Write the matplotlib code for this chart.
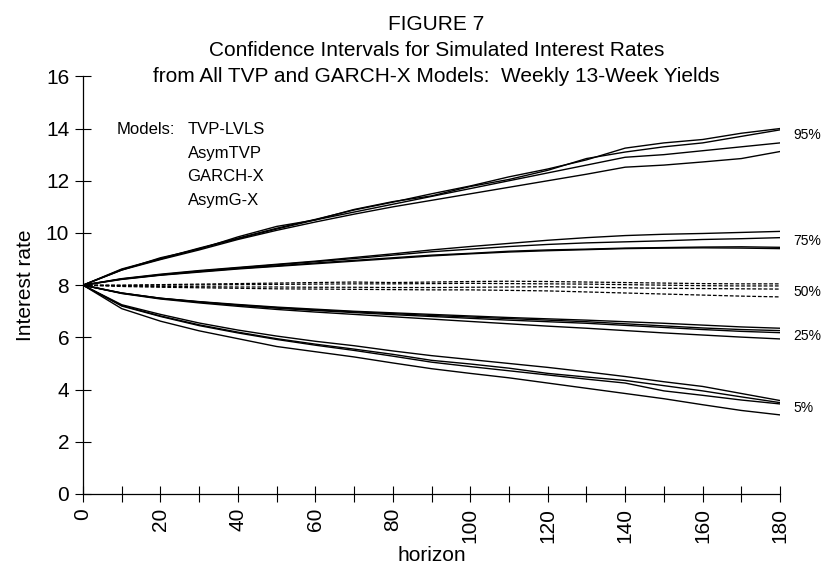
import matplotlib
matplotlib.use("Agg")
import matplotlib.pyplot as plt
import numpy as np

plt.rcParams['font.family'] = ['Liberation Sans Narrow', 'Liberation Sans', 'DejaVu Sans']

# ---------------- data ----------------
horizon = [0, 10, 20, 30, 40, 50, 60, 70, 80, 90, 100, 110, 120, 130, 140, 150, 160, 170, 180]
models = ["TVP-LVLS", "AsymTVP", "GARCH-X", "AsymG-X"]

q95 = [
    [8, 8.62, 9.02, 9.42, 9.80, 10.18, 10.52, 10.88, 11.18, 11.50, 11.80, 12.15, 12.45, 12.80, 13.25, 13.45, 13.58, 13.82, 14.00],
    [8, 8.58, 9.05, 9.38, 9.85, 10.25, 10.50, 10.90, 11.20, 11.42, 11.78, 12.05, 12.40, 12.85, 13.10, 13.30, 13.45, 13.70, 13.95],
    [8, 8.60, 9.00, 9.40, 9.78, 10.15, 10.50, 10.80, 11.10, 11.40, 11.70, 12.00, 12.30, 12.60, 12.90, 13.00, 13.15, 13.30, 13.45],
    [8, 8.58, 8.98, 9.35, 9.75, 10.10, 10.42, 10.72, 11.00, 11.25, 11.50, 11.75, 12.00, 12.25, 12.52, 12.60, 12.72, 12.85, 13.12],
]
q75 = [
    [8, 8.25, 8.42, 8.56, 8.68, 8.80, 8.92, 9.06, 9.20, 9.35, 9.48, 9.60, 9.72, 9.82, 9.90, 9.95, 9.98, 10.02, 10.06],
    [8, 8.24, 8.40, 8.54, 8.66, 8.78, 8.90, 9.02, 9.15, 9.28, 9.38, 9.48, 9.56, 9.62, 9.66, 9.70, 9.75, 9.78, 9.82],
    [8, 8.22, 8.38, 8.50, 8.62, 8.72, 8.82, 8.92, 9.02, 9.12, 9.20, 9.27, 9.32, 9.36, 9.40, 9.42, 9.43, 9.42, 9.40],
    [8, 8.23, 8.39, 8.52, 8.64, 8.74, 8.85, 8.95, 9.05, 9.15, 9.22, 9.30, 9.35, 9.38, 9.42, 9.44, 9.46, 9.47, 9.45],
]
q50 = [
    [8, 8.00, 8.02, 8.04, 8.06, 8.08, 8.10, 8.12, 8.10, 8.12, 8.14, 8.15, 8.14, 8.12, 8.10, 8.08, 8.06, 8.05, 8.05],
    [8, 7.99, 8.00, 8.01, 8.02, 8.03, 8.04, 8.05, 8.05, 8.06, 8.07, 8.06, 8.05, 8.04, 8.02, 8.00, 7.98, 7.97, 7.97],
    [8, 7.97, 7.95, 7.94, 7.93, 7.93, 7.92, 7.92, 7.91, 7.91, 7.92, 7.93, 7.94, 7.92, 7.90, 7.88, 7.87, 7.86, 7.85],
    [8, 7.95, 7.92, 7.90, 7.88, 7.86, 7.85, 7.84, 7.83, 7.82, 7.82, 7.80, 7.78, 7.74, 7.70, 7.66, 7.62, 7.58, 7.55],
]
q25 = [
    [8, 7.70, 7.50, 7.37, 7.26, 7.16, 7.08, 7.00, 6.94, 6.88, 6.82, 6.76, 6.71, 6.66, 6.60, 6.54, 6.47, 6.40, 6.35],
    [8, 7.70, 7.50, 7.36, 7.24, 7.14, 7.05, 6.98, 6.91, 6.84, 6.78, 6.72, 6.66, 6.60, 6.52, 6.44, 6.36, 6.30, 6.26],
    [8, 7.69, 7.49, 7.35, 7.23, 7.12, 7.03, 6.95, 6.87, 6.80, 6.73, 6.66, 6.60, 6.54, 6.46, 6.38, 6.30, 6.23, 6.18],
    [8, 7.68, 7.47, 7.32, 7.19, 7.07, 6.97, 6.88, 6.79, 6.70, 6.61, 6.52, 6.43, 6.35, 6.26, 6.17, 6.09, 6.01, 5.94],
]
q05 = [
    [8, 7.25, 6.88, 6.55, 6.28, 6.05, 5.85, 5.68, 5.48, 5.30, 5.15, 5.00, 4.85, 4.68, 4.50, 4.30, 4.12, 3.85, 3.58],
    [8, 7.22, 6.82, 6.48, 6.20, 5.95, 5.74, 5.55, 5.35, 5.12, 4.98, 4.82, 4.62, 4.48, 4.35, 4.15, 3.95, 3.72, 3.50],
    [8, 7.20, 6.80, 6.45, 6.17, 5.92, 5.70, 5.50, 5.28, 5.05, 4.88, 4.72, 4.56, 4.40, 4.25, 3.95, 3.78, 3.60, 3.45],
    [8, 7.10, 6.62, 6.25, 5.95, 5.65, 5.45, 5.25, 5.02, 4.80, 4.62, 4.45, 4.25, 4.05, 3.85, 3.65, 3.42, 3.20, 3.03],
]
quant_labels = ["95%", "75%", "50%", "25%", "5%"]
label_y = [13.75, 9.69, 7.75, 6.07, 3.31]

xticks = [0, 20, 40, 60, 80, 100, 120, 140, 160, 180]
yticks = [0, 2, 4, 6, 8, 10, 12, 14, 16]

# ---------------- figure ----------------
fig = plt.figure(figsize=(8.23, 5.74), dpi=100)
ax = fig.add_axes([0.1009, 0.1394, 0.8469, 0.7276])

for series in (q95, q75, q25, q05):
    for vals in series:
        ax.plot(horizon, vals, color='black', lw=1.0)
for vals in q50:
    ax.plot(horizon, vals, color='black', lw=0.9, ls=(0, (3, 1.5)))

ax.set_xlim(0, 180)
ax.set_ylim(0, 16)
for s in ('top', 'right'):
    ax.spines[s].set_visible(False)
ax.spines['left'].set_linewidth(0.9)
ax.spines['bottom'].set_linewidth(0.9)

ax.set_xticks(xticks)
ax.set_xticks(np.arange(10, 180, 20), minor=True)
ax.set_yticks(yticks)
ax.set_xticklabels([str(t) for t in xticks], rotation=90, fontsize=15)
ax.set_yticklabels([str(t) for t in yticks], fontsize=15)
ax.tick_params(axis='both', which='both', direction='inout', width=0.8)
ax.tick_params(axis='x', which='both', length=12, pad=4)
ax.tick_params(axis='y', which='major', length=12, pad=4)

ax.set_xlabel("horizon", fontsize=15, labelpad=2)
ax.set_ylabel("Interest rate", fontsize=15, labelpad=8)

# legend-like text
ax.text(8.8, 13.95, "Models:", fontsize=12, va='center', ha='left')
for i, m in enumerate(models):
    ax.text(27.0, 13.95 - 0.9 * i, m, fontsize=12, va='center', ha='left')

for lab, yv in zip(quant_labels, label_y):
    ax.text(183.4, yv, lab, fontsize=10, va='center', ha='left',
            family=['Liberation Sans', 'DejaVu Sans'], clip_on=False)

# titles
cx = 0.53
fig.text(cx, 0.958, "FIGURE 7", fontsize=15, ha='center', va='center')
fig.text(cx, 0.912, "Confidence Intervals for Simulated Interest Rates", fontsize=15,
         ha='center', va='center')
fig.text(cx, 0.866, "from All TVP and GARCH-X Models:  Weekly 13-Week Yields", fontsize=15,
         ha='center', va='center')

fig.savefig("out.png", dpi=100)
